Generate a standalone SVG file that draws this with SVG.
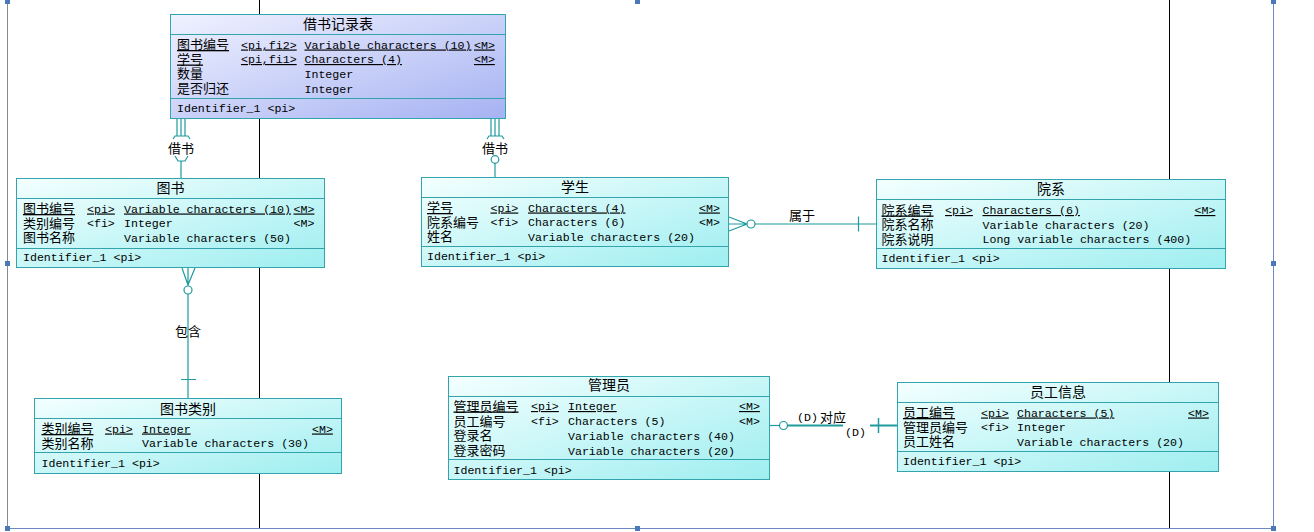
<svg xmlns="http://www.w3.org/2000/svg" width="1314" height="532" viewBox="0 0 1314 532">
<defs>
<linearGradient id="gc" x1="0" y1="0" x2="1" y2="1">
<stop offset="0" stop-color="#f4ffff"/>
<stop offset="1" stop-color="#9eeef0"/>
</linearGradient>
<linearGradient id="gb" x1="0" y1="0" x2="1" y2="1">
<stop offset="0" stop-color="#f0f2ff"/>
<stop offset="1" stop-color="#a6b2f2"/>
</linearGradient>
<style>
.box{stroke:#33a3ad;stroke-width:1}
.sep{stroke:#33a3ad;stroke-width:1}
.t{font-family:"Noto Sans CJK SC","Noto Sans",sans-serif;font-size:14px;fill:#000;text-anchor:middle}
.n{font-family:"Noto Sans CJK SC","Noto Sans",sans-serif;font-size:13px;fill:#000}
.m{font-family:"Liberation Mono","DejaVu Sans Mono",monospace;font-size:11.6px;fill:#000}
.u{text-decoration:underline}
.c{stroke:#1f9a9e;stroke-width:1.2;fill:none}
.ci{stroke:#1f9a9e;stroke-width:1.2;fill:#fff}
.lb{font-family:"Noto Sans CJK SC","Noto Sans",sans-serif;font-size:13px;fill:#000;text-anchor:middle}
.h{fill:#4a78b8}
</style>
</defs>
<rect width="1314" height="532" fill="#fff"/>
<g id="page">
<line x1="7.5" y1="0" x2="7.5" y2="528" stroke="#8a8a8a"/>
<line x1="1273.5" y1="0" x2="1273.5" y2="528" stroke="#6a8ac0"/>
<line x1="7" y1="528.5" x2="1274" y2="528.5" stroke="#6a8ac0"/>
<line x1="259.5" y1="0" x2="259.5" y2="528" stroke="#000"/>
<line x1="1169.5" y1="0" x2="1169.5" y2="528" stroke="#000"/>
<rect class="h" x="5" y="0" width="5" height="4"/>
<rect class="h" x="635" y="0" width="5" height="4"/>
<rect class="h" x="1271" y="0" width="5" height="4"/>
<rect class="h" x="5" y="261" width="5" height="5"/>
<rect class="h" x="1271" y="261" width="5" height="5"/>
<rect class="h" x="5" y="526" width="5" height="5"/>
<rect class="h" x="635" y="526" width="5" height="5"/>
<rect class="h" x="1271" y="526" width="5" height="5"/>
</g>
<g id="connectors">
<path class="c" d="M177,118V136M181,118V136M185,118V136M173,139L175,136H188L190,139"/>
<path class="c" d="M175,156L178,161H185L188,156M181,161V178"/>
<text class="lb" x="181" y="153">借书</text>
<path class="c" d="M491,118V136M495,118V136M499,118V136M487,139L489,136H502L504,139"/>
<circle class="ci" cx="495" cy="159.5" r="3.8"/>
<path class="c" d="M495,163.3V177"/>
<text class="lb" x="495" y="153">借书</text>
<path class="c" d="M729,217L747,224L729,231M729,224H747"/>
<circle class="ci" cx="751" cy="224" r="4"/>
<path class="c" d="M755,224H876M858.5,216.5V231.5"/>
<text class="lb" x="802" y="220">属于</text>
<path class="c" d="M182,268L188,285L195,268M188,268V285"/>
<circle class="ci" cx="188" cy="290" r="4"/>
<path class="c" d="M188,294V398M181,379.5H196"/>
<text class="lb" x="188" y="336">包含</text>
<path class="c" d="M770,425.5H779.5"/>
<circle class="ci" cx="783.5" cy="425.5" r="4"/>
<path class="c" style="stroke-width:2" d="M787.5,425.5H843"/>
<path class="c" style="stroke-width:2" d="M870,425.5H897"/>
<path class="c" style="stroke-width:1.5" d="M878.5,418V433"/>
<text class="m" x="797" y="421">(D)</text>
<text class="lb" x="833" y="421.5">对应</text>
<text class="m" x="845" y="436">(D)</text>
</g>
<g id="jieshujilu">
<rect class="box" x="170.5" y="14.5" width="335" height="104" fill="url(#gb)"/>
<line class="sep" x1="170.5" y1="34.5" x2="505.5" y2="34.5"/>
<line class="sep" x1="170.5" y1="98.5" x2="505.5" y2="98.5"/>
<text class="t" x="338" y="29">借书记录表</text>
<text class="n u" x="177" y="49">图书编号</text><text class="m u" x="241" y="48.5">&lt;pi,fi2&gt;</text><text class="m u" x="304.5" y="48.5">Variable characters (10)</text><text class="m u" x="474" y="48.5">&lt;M&gt;</text>
<text class="n u" x="177" y="63.5">学号</text><text class="m u" x="241" y="63">&lt;pi,fi1&gt;</text><text class="m u" x="304.5" y="63">Characters (4)</text><text class="m u" x="474" y="63">&lt;M&gt;</text>
<text class="n" x="177" y="78">数量</text><text class="m" x="304.5" y="77.5">Integer</text>
<text class="n" x="177" y="93">是否归还</text><text class="m" x="304.5" y="92.5">Integer</text>
<text class="m" x="177" y="112">Identifier_1 &lt;pi&gt;</text>
</g>
<g id="tushu">
<rect class="box" x="16.5" y="178.5" width="308" height="89" fill="url(#gc)"/>
<line class="sep" x1="16.5" y1="198.5" x2="324.5" y2="198.5"/>
<line class="sep" x1="16.5" y1="248.5" x2="324.5" y2="248.5"/>
<text class="t" x="170.5" y="193">图书</text>
<text class="n u" x="23" y="213">图书编号</text><text class="m u" x="87" y="212.5">&lt;pi&gt;</text><text class="m u" x="124" y="212.5">Variable characters (10)</text><text class="m u" x="293.5" y="212.5">&lt;M&gt;</text>
<text class="n" x="23" y="227.5">类别编号</text><text class="m" x="87" y="227">&lt;fi&gt;</text><text class="m" x="124" y="227">Integer</text><text class="m" x="293.5" y="227">&lt;M&gt;</text>
<text class="n" x="23" y="242">图书名称</text><text class="m" x="124" y="241.5">Variable characters (50)</text>
<text class="m" x="23" y="261">Identifier_1 &lt;pi&gt;</text>
</g>
<g id="xuesheng">
<rect class="box" x="421.5" y="177.5" width="307" height="89" fill="url(#gc)"/>
<line class="sep" x1="421.5" y1="197.5" x2="728.5" y2="197.5"/>
<line class="sep" x1="421.5" y1="246.5" x2="728.5" y2="246.5"/>
<text class="t" x="575" y="192">学生</text>
<text class="n u" x="427" y="212">学号</text><text class="m u" x="490.5" y="211.5">&lt;pi&gt;</text><text class="m u" x="528" y="211.5">Characters (4)</text><text class="m u" x="699" y="211.5">&lt;M&gt;</text>
<text class="n" x="427" y="226.5">院系编号</text><text class="m" x="490.5" y="226">&lt;fi&gt;</text><text class="m" x="528" y="226">Characters (6)</text><text class="m" x="699" y="226">&lt;M&gt;</text>
<text class="n" x="427" y="241">姓名</text><text class="m" x="528" y="240.5">Variable characters (20)</text>
<text class="m" x="427" y="260">Identifier_1 &lt;pi&gt;</text>
</g>
<g id="yuanxi">
<rect class="box" x="876.5" y="179.5" width="349" height="89" fill="url(#gc)"/>
<line class="sep" x1="876.5" y1="199.5" x2="1225.5" y2="199.5"/>
<line class="sep" x1="876.5" y1="248.5" x2="1225.5" y2="248.5"/>
<text class="t" x="1051" y="194">院系</text>
<text class="n u" x="881.5" y="214.5">院系编号</text><text class="m u" x="945" y="214">&lt;pi&gt;</text><text class="m u" x="982.5" y="214">Characters (6)</text><text class="m u" x="1194.5" y="214">&lt;M&gt;</text>
<text class="n" x="881.5" y="229">院系名称</text><text class="m" x="982.5" y="228.5">Variable characters (20)</text>
<text class="n" x="881.5" y="243.5">院系说明</text><text class="m" x="982.5" y="243">Long variable characters (400)</text>
<text class="m" x="881.5" y="262">Identifier_1 &lt;pi&gt;</text>
</g>
<g id="tushuleibie">
<rect class="box" x="34.5" y="398.5" width="307" height="75" fill="url(#gc)"/>
<line class="sep" x1="34.5" y1="418.5" x2="341.5" y2="418.5"/>
<line class="sep" x1="34.5" y1="452.5" x2="341.5" y2="452.5"/>
<text class="t" x="188" y="413.5">图书类别</text>
<text class="n u" x="41.5" y="433">类别编号</text><text class="m u" x="105" y="432.5">&lt;pi&gt;</text><text class="m u" x="142" y="432.5">Integer</text><text class="m u" x="312" y="432.5">&lt;M&gt;</text>
<text class="n" x="41.5" y="447.5">类别名称</text><text class="m" x="142" y="447">Variable characters (30)</text>
<text class="m" x="41.5" y="467">Identifier_1 &lt;pi&gt;</text>
</g>
<g id="guanliyuan">
<rect class="box" x="448.5" y="376.5" width="321" height="103" fill="url(#gc)"/>
<line class="sep" x1="448.5" y1="396.5" x2="769.5" y2="396.5"/>
<line class="sep" x1="448.5" y1="459.5" x2="769.5" y2="459.5"/>
<text class="t" x="609" y="390">管理员</text>
<text class="n u" x="453.5" y="410.5">管理员编号</text><text class="m u" x="531" y="410">&lt;pi&gt;</text><text class="m u" x="568" y="410">Integer</text><text class="m u" x="739" y="410">&lt;M&gt;</text>
<text class="n" x="453.5" y="425.5">员工编号</text><text class="m" x="531" y="425">&lt;fi&gt;</text><text class="m" x="568" y="425">Characters (5)</text><text class="m" x="739" y="425">&lt;M&gt;</text>
<text class="n" x="453.5" y="440">登录名</text><text class="m" x="568" y="439.5">Variable characters (40)</text>
<text class="n" x="453.5" y="455">登录密码</text><text class="m" x="568" y="454.5">Variable characters (20)</text>
<text class="m" x="453.5" y="473.5">Identifier_1 &lt;pi&gt;</text>
</g>
<g id="yuangongxinxi">
<rect class="box" x="897.5" y="382.5" width="321" height="89" fill="url(#gc)"/>
<line class="sep" x1="897.5" y1="402.5" x2="1218.5" y2="402.5"/>
<line class="sep" x1="897.5" y1="451.5" x2="1218.5" y2="451.5"/>
<text class="t" x="1058" y="396.5">员工信息</text>
<text class="n u" x="903" y="417">员工编号</text><text class="m u" x="981" y="416.5">&lt;pi&gt;</text><text class="m u" x="1017" y="416.5">Characters (5)</text><text class="m u" x="1188" y="416.5">&lt;M&gt;</text>
<text class="n" x="903" y="431.5">管理员编号</text><text class="m" x="981" y="431">&lt;fi&gt;</text><text class="m" x="1017" y="431">Integer</text>
<text class="n" x="903" y="446">员工姓名</text><text class="m" x="1017" y="445.5">Variable characters (20)</text>
<text class="m" x="903" y="465">Identifier_1 &lt;pi&gt;</text>
</g>
</svg>
